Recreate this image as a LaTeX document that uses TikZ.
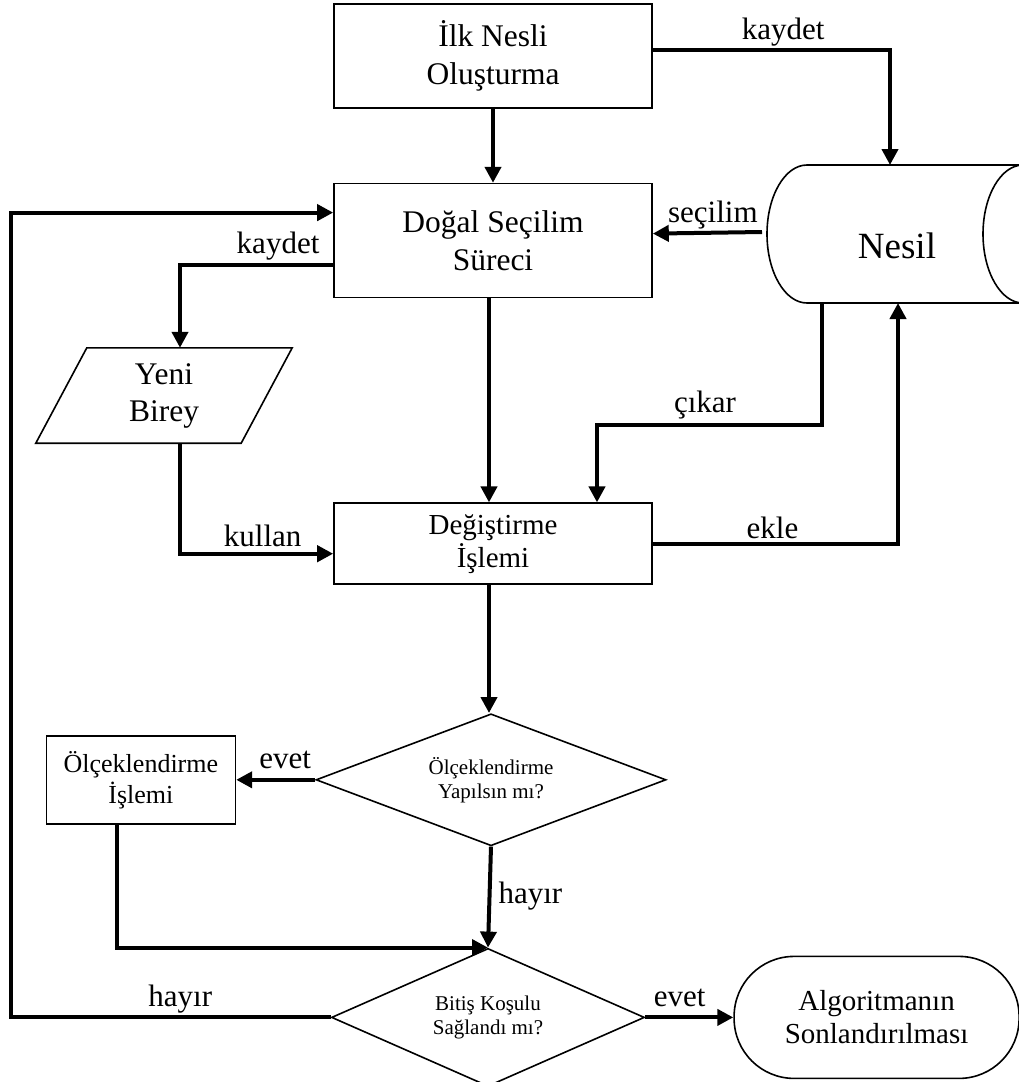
\documentclass[tikz,border=0pt]{standalone}
\usepackage{fontspec}
\setmainfont{Liberation Serif}
\usetikzlibrary{arrows.meta,positioning,shapes.geometric,calc}

\begin{document}
\begin{tikzpicture}[
  x=1pt, y=1pt,
  >={Triangle[length=16pt,width=16pt]},
  proc/.style={
    draw,
    line width=1.6pt,
    align=center,
    inner sep=0pt,
    minimum width=318pt,
    font=\fontsize{31.5}{38}\selectfont
  },
  decision/.style={
    draw,
    diamond,
    line width=1.6pt,
    align=center,
    inner sep=0pt,
    font=\fontsize{21}{24}\selectfont
  },
  flow/.style={->, line width=4pt},
  lbl/.style={font=\fontsize{31}{36}\selectfont, inner sep=0pt, anchor=base, yshift=11pt}
]
\useasboundingbox (0,0) rectangle (1019,-1082);
\clip (0,0) rectangle (1019,-1082);

% main column
\node[proc,minimum height=104pt] (ilk) at (493,-56) {İlk Nesli\\Oluşturma};
\node[proc,minimum height=114pt,below=74pt of ilk] (dogal) {Doğal Seçilim\\Süreci};
\node[proc,minimum height=81pt,below=204pt of dogal,font=\fontsize{29}{33}\selectfont] (degis) {Değiştirme\\İşlemi};
\node[decision,aspect=2.65,minimum width=350pt,minimum height=132pt,below=128pt of degis,xshift=-2pt] (olcek) {Ölçeklendirme\\Yapılsın mı?};
\node[decision,aspect=2.27,minimum width=313pt,minimum height=138pt,below=101pt of olcek,xshift=-3pt] (bitis) {Bitiş Koşulu\\Sağlandı mı?};

% side nodes
\node[proc,minimum width=189pt,minimum height=88pt,left=79pt of olcek,font=\fontsize{26}{31}\selectfont] (olcekis) {Ölçeklendirme\\İşlemi};
\node[draw,line width=1.6pt,rounded corners=60pt,align=center,inner sep=0pt,
  minimum width=285pt,minimum height=122pt,right=88pt of bitis,
  font=\fontsize{29}{33}\selectfont] (son) {Algoritmanın\\Sonlandırılması};
\node[inner sep=0pt,minimum width=256pt,minimum height=95pt,align=center,
  font=\fontsize{31.5}{37}\selectfont] (yeni) at (164,-395.5) {Yeni\\Birey};
\draw[line width=1.6pt] ([xshift=51pt]yeni.north west) -- (yeni.north east)
  -- ([xshift=-51pt]yeni.south east) -- (yeni.south west) -- cycle;

% Nesil store
\node[inner sep=0pt,outer sep=0pt,minimum width=296pt,minimum height=138pt,
  label={[font=\fontsize{37}{40}\selectfont,yshift=-12pt,xshift=-18pt]center:Nesil}] (nesil) at (915,-234) {};
\draw[line width=1.6pt] ([xshift=40pt]nesil.north west)
  arc[start angle=90,end angle=270,x radius=40pt,y radius=69pt] -- ([xshift=-40pt]nesil.south east);
\draw[line width=1.6pt] ([xshift=40pt]nesil.north west) -- ([xshift=-40pt]nesil.north east);
\draw[line width=1.6pt] ([xshift=-40pt]nesil.east) ellipse[x radius=40pt,y radius=69pt];

% connectors
\draw[flow] (ilk) -- (dogal);
\draw[flow] ([yshift=6pt]ilk.east) -| ([xshift=-25pt]nesil.north) node[lbl,pos=0.275] {kaydet};
\draw[flow] ([xshift=-5pt,yshift=2pt]nesil.west) -- ([yshift=7pt]dogal.east) node[lbl,pos=0.45,yshift=-1pt] {seçilim};
\draw[flow] ([xshift=-4pt]dogal.south) -- ([xshift=-4pt]degis.north);
\draw[flow] ([yshift=-24pt]dogal.west) -| ([xshift=16pt]yeni.north) node[lbl,pos=0.18] {kaydet};
\draw[flow] ([xshift=16pt]yeni.south) |- ([yshift=-10pt]degis.west) node[lbl,pos=0.77,yshift=-4pt] {kullan};
\draw[flow] ([xshift=-93pt]nesil.south) |- ([xshift=104pt,yshift=77pt]degis.north) node[lbl,pos=0.76,yshift=2pt] {çıkar}
  -- ([xshift=104pt]degis.north);
\draw[flow] (degis.east) -| ([xshift=-17pt]nesil.south) node[lbl,pos=0.244,yshift=-6pt] {ekle};
\draw[flow] ([xshift=-4pt]degis.south) -- ([xshift=-2pt]olcek.north);
\draw[flow] (olcek.west) -- (olcekis.east) node[lbl,pos=0.38] {evet};
\draw[flow] (olcek.south) -- (bitis.north) node[lbl,midway,anchor=base west,xshift=7pt,yshift=-17pt] {hayır};
\draw[flow] ([xshift=-24pt]olcekis.south) |- (bitis.north);
\draw[flow] (bitis.west) -- ++(-320,0) node[lbl,pos=0.47] {hayır} |- ([yshift=28pt]dogal.west);
\draw[flow] (bitis.east) -- (son.west) node[lbl,pos=0.39] {evet};
\end{tikzpicture}
\end{document}
